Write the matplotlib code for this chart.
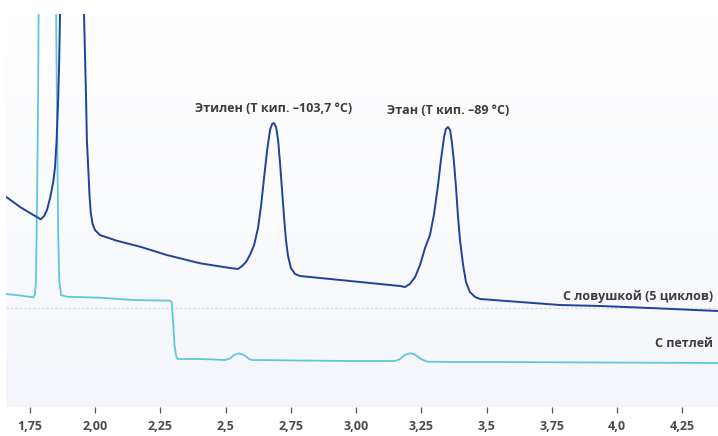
import numpy as np
import matplotlib
matplotlib.use("Agg")
import matplotlib.pyplot as plt
from matplotlib.colors import LinearSegmentedColormap

plt.rcParams['font.family'] = ['Open Sans', 'DejaVu Sans']

# retention time (min) / detector signal (arb. units)
trap_t = [1.661, 1.712, 1.750, 1.791, 1.804, 1.815, 1.827, 1.839, 1.846, 1.852,
          1.858, 1.862, 1.865, 1.910, 1.957, 1.965, 1.968, 1.973, 1.978, 1.983,
          1.990, 1.999, 2.018, 2.082, 2.172, 2.274, 2.402, 2.517, 2.547, 2.563,
          2.578, 2.593, 2.609, 2.624, 2.636, 2.647, 2.659, 2.670, 2.678, 2.685,
          2.693, 2.701, 2.708, 2.716, 2.724, 2.731, 2.739, 2.750, 2.766, 2.785,
          2.977, 3.168, 3.187, 3.206, 3.226, 3.245, 3.264, 3.283, 3.298, 3.314,
          3.325, 3.337, 3.344, 3.352, 3.360, 3.367, 3.375, 3.383, 3.390, 3.398,
          3.410, 3.421, 3.436, 3.456, 3.475, 3.628, 3.781, 3.935, 4.126, 4.387]
trap_s = [209.7, 200, 194, 187.7, 191, 197, 209, 225, 240, 267,
          307, 347, 393, 1500, 393, 307, 267, 240, 212, 194,
          183, 177, 172, 166.3, 160.3, 152, 143.7, 139, 138, 141,
          145, 152, 162, 179, 202, 229, 257, 277, 283, 284,
          280, 267, 245, 217, 189, 167, 151, 139, 133, 131,
          126, 121, 120, 123, 130, 142, 159, 172, 192, 222,
          247, 270, 278, 280, 277, 265, 245, 219, 192, 167,
          142, 125, 115, 110, 108, 105, 102, 101, 99, 96]

loop_t = [1.658, 1.712, 1.763, 1.769, 1.773, 1.777, 1.781, 1.783, 1.815, 1.850,
          1.853, 1.858, 1.862, 1.869, 1.891, 2.018, 2.145, 2.287, 2.293, 2.298,
          2.304, 2.310, 2.317, 2.402, 2.497, 2.517, 2.532, 2.551, 2.570, 2.590,
          2.601, 2.785, 2.977, 3.149, 3.168, 3.187, 3.206, 3.226, 3.245, 3.272,
          3.360, 3.551, 3.935, 4.387]
loop_s = [113, 111.5, 109.7, 113, 127, 207, 307, 393, 1500, 393,
          307, 174, 127, 112, 110.3, 109.3, 107, 106.3, 105, 87,
          62, 51, 48, 48, 47, 48.5, 52, 53.7, 52, 48,
          47, 46.5, 46, 46, 48, 52, 53.7, 52.5, 48.5, 45.3,
          45, 45, 44.5, 44]

baseline = 98.7

tick_vals = [1.75, 2.00, 2.25, 2.5, 2.75, 3.00, 3.25, 3.5, 3.75, 4.0, 4.25]
tick_labels = ["1,75", "2,00", "2,25", "2,5", "2,75", "3,00", "3,25", "3,5", "3,75", "4,0", "4,25"]

peak_labels = ["Этилен (T кип. –103,7 °C)", "Этан (T кип. –89 °C)"]
peak_t = [2.685, 3.352]
peak_s = [284, 280]

series_labels = ["С ловушкой (5 циклов)", "С петлей"]

dark = "#23409a"
light = "#62c6da"
txt = "#3b3b3b"

fig = plt.figure(figsize=(7.18, 4.36), dpi=100)
ax = fig.add_axes([6 / 718, 29 / 436, 712 / 718, 393 / 436])

# soft vertical background gradient
cmap = LinearSegmentedColormap.from_list("bg", ["#f4f6fb", "#ffffff"])
grad = np.linspace(0, 1, 256).reshape(-1, 1)
ax.imshow(grad, extent=[0, 1, 0, 1], transform=ax.transAxes, cmap=cmap,
          aspect="auto", origin="lower", zorder=0)

ax.axhline(baseline, color="#d6d8dc", lw=0.8, ls=(0, (2, 2)), zorder=1)
ax.plot(loop_t, loop_s, color=light, lw=1.3, zorder=2)
ax.plot(trap_t, trap_s, color=dark, lw=1.4, zorder=3)

ax.set_xlim(1.658, 4.387)
ax.set_ylim(0, 393)

for lab, t, s, dy in zip(peak_labels, peak_t, peak_s, [6, 7]):
    ax.annotate(lab, (t, s), xytext=(0, dy), textcoords="offset points",
                ha="center", va="bottom", fontsize=9, fontweight="bold", color=txt)

ax.text(0.993, trap_s[-1] + 8, series_labels[0], transform=ax.get_yaxis_transform(),
        ha="right", va="bottom", fontsize=9, fontweight="bold", color=txt)
ax.text(0.993, loop_s[-1] + 13, series_labels[1], transform=ax.get_yaxis_transform(),
        ha="right", va="bottom", fontsize=9, fontweight="bold", color=txt)

for sp in ax.spines.values():
    sp.set_visible(False)
ax.set_yticks([])
ax.set_xticks(tick_vals)
ax.set_xticklabels(tick_labels, fontsize=9, fontweight="bold", color="#4a4a4a")
ax.tick_params(axis="x", length=4.5, width=0.9, color="#555555", pad=5)

fig.savefig("out.png", dpi=100)
